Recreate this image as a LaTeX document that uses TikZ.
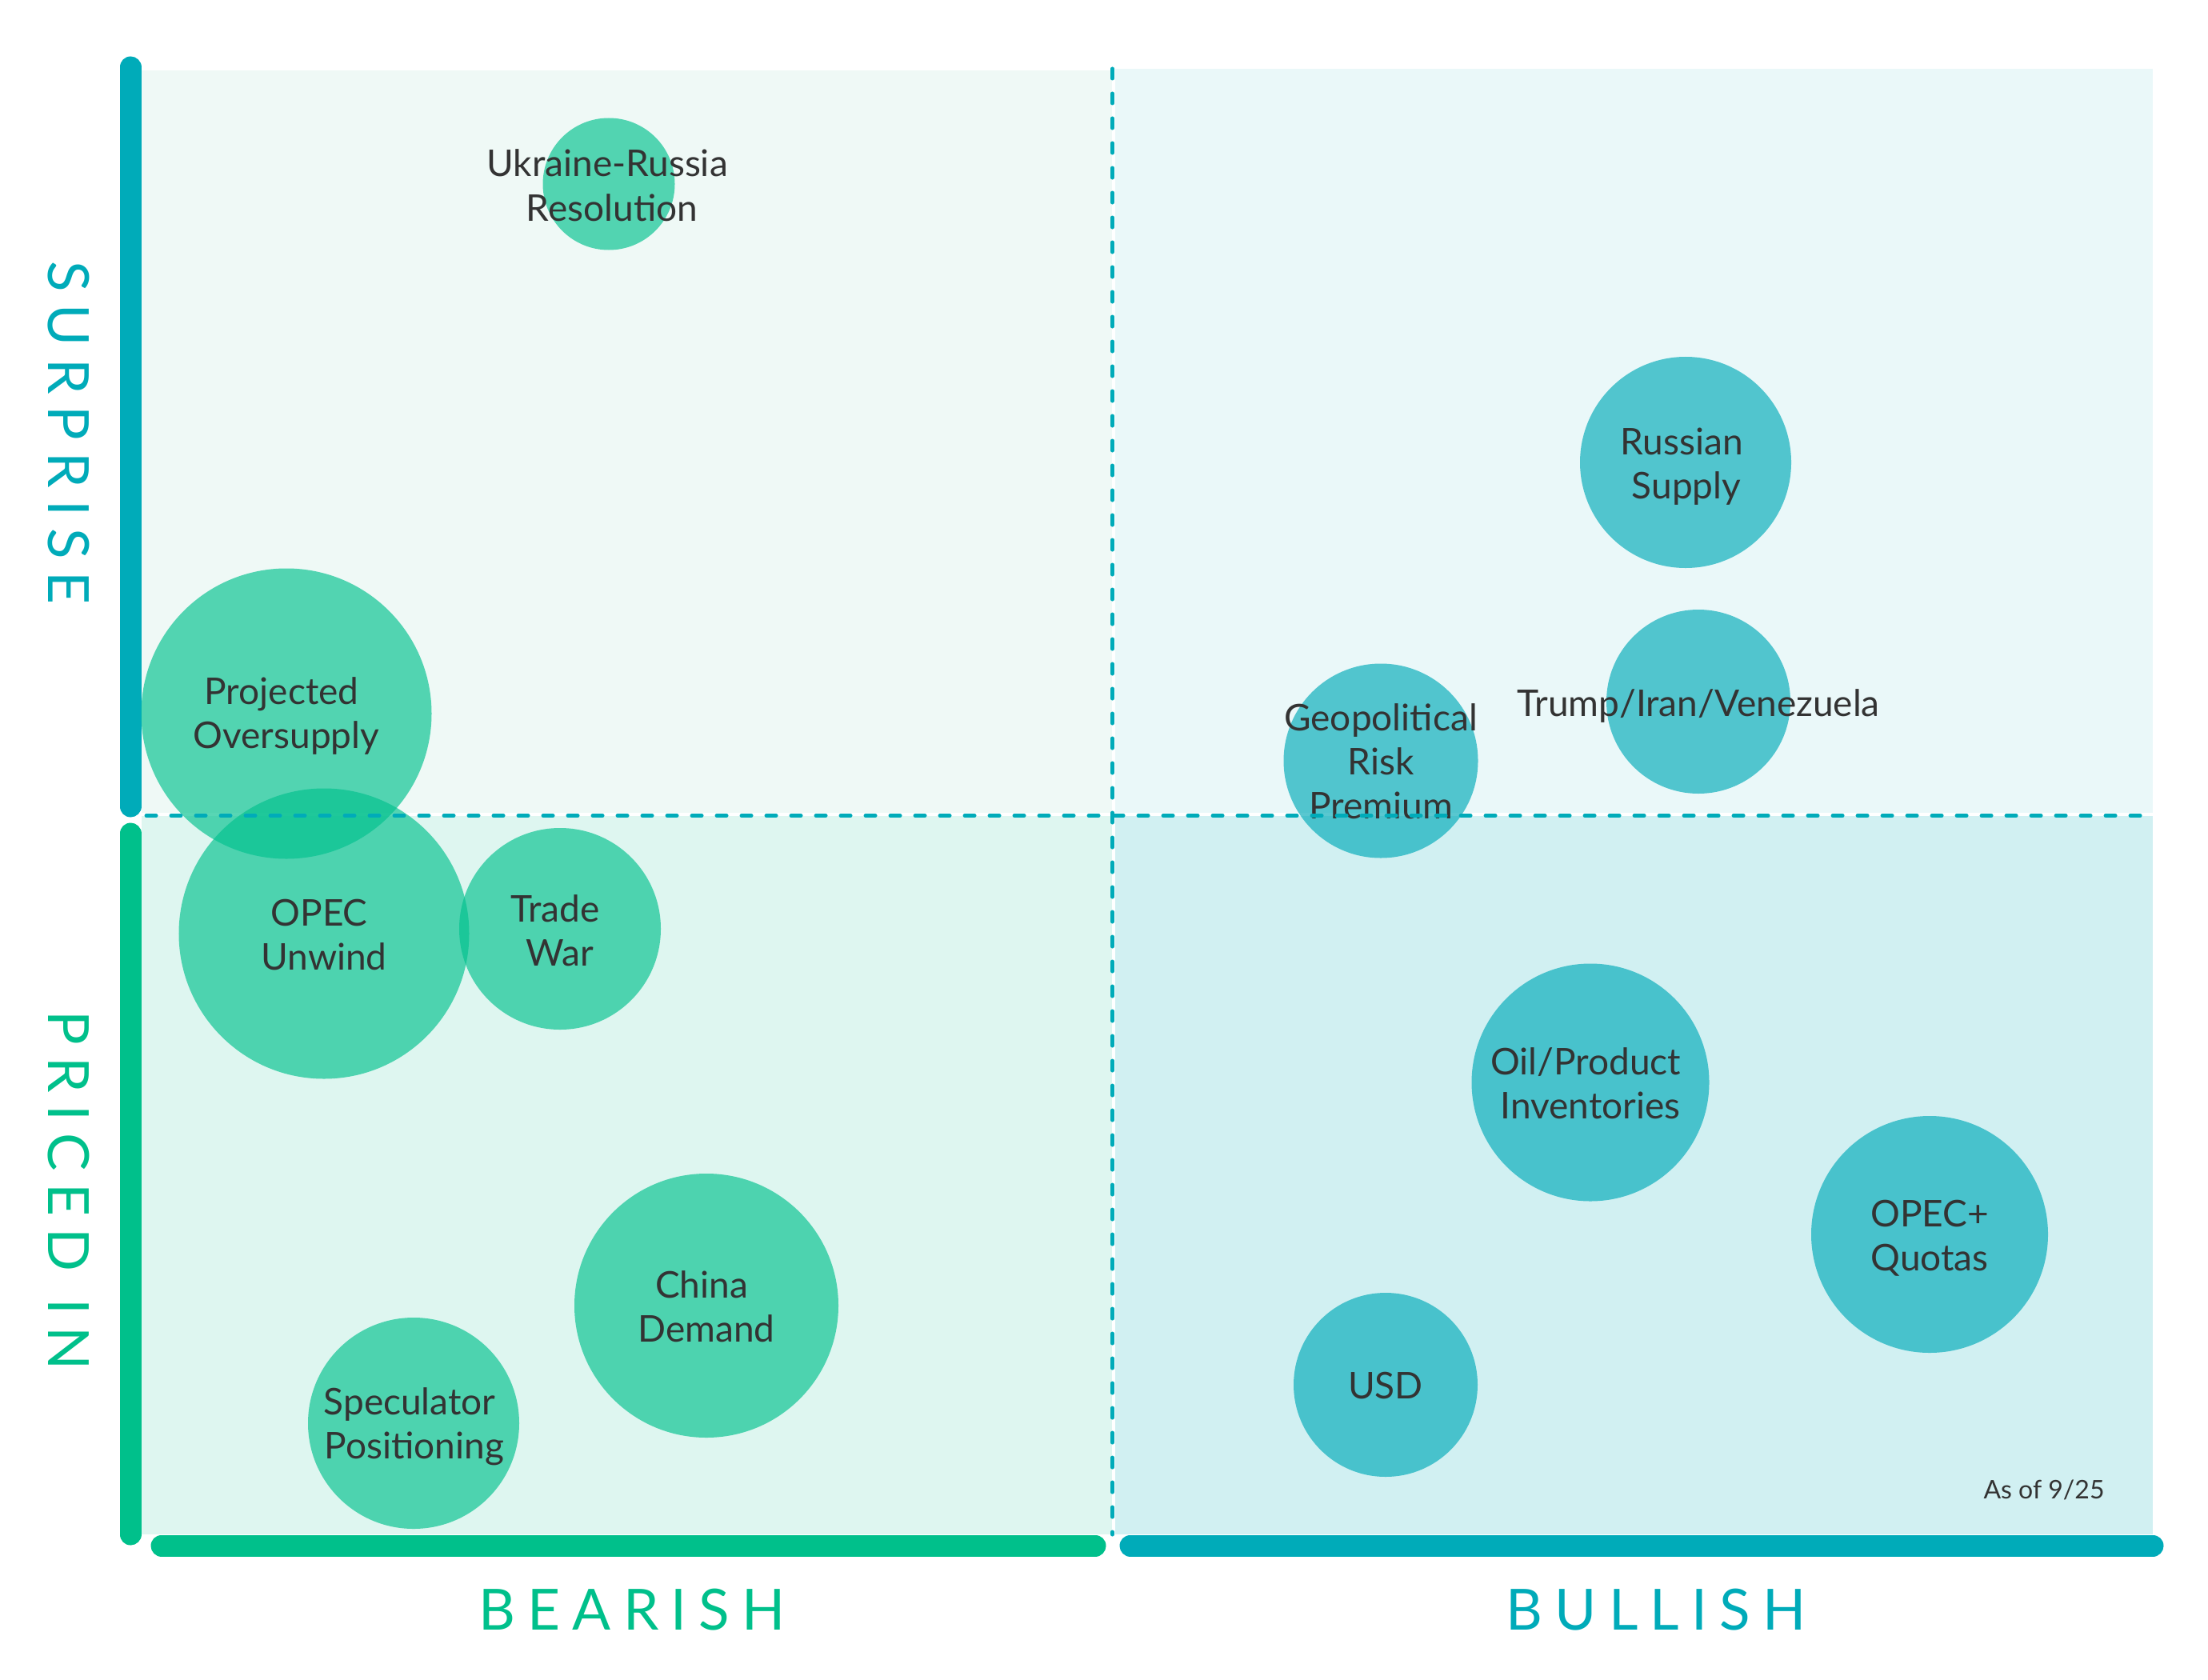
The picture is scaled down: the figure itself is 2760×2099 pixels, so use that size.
\documentclass[tikz,border=0pt]{standalone}
\usepackage{fontspec}
\setmainfont{Lato}
\definecolor{tealc}{RGB}{0,171,185}
\definecolor{greenc}{RGB}{0,192,139}
\definecolor{tealb}{RGB}{0,170,184}
\definecolor{greenb}{RGB}{2,193,142}
\definecolor{txt}{RGB}{51,51,51}
\definecolor{bgTL}{RGB}{239,249,246}
\definecolor{bgTR}{RGB}{234,248,249}
\definecolor{bgBL}{RGB}{222,246,240}
\definecolor{bgBR}{RGB}{209,240,242}
\newcommand\mlines[1]{\vtop{\halign{\hfil##\hfil\cr#1\crcr}}}
\tikzset{
  axbar/.style={line width=13.5bp, line cap=round},
  divider/.style={line width=2.5bp, line cap=round, tealc, dash pattern=on 6bp off 9.5bp},
  gbub/.style={circle, inner sep=0, fill=greenb, fill opacity=0.66, draw=none},
  tbub/.style={circle, inner sep=0, fill=tealb, fill opacity=0.65, draw=none},
  lbl/.style={anchor=base, inner sep=0, text=txt, font=\fontsize{23bp}{27.5bp}\selectfont},
  axl/.style={inner sep=0, font=\fontsize{35.5bp}{40bp}\selectfont\addfontfeature{LetterSpace=21.5}},
}
\begin{document}
\begin{tikzpicture}[x=0.5bp, y=-0.5bp]
\useasboundingbox[fill=white] (0,0) rectangle (2760,2099);
% quadrant backgrounds
\fill[bgTL] (177,88) rectangle (1390,1016);
\fill[bgTR] (1394,86) rectangle (2691,1016);
\fill[bgBL] (177,1020) rectangle (1390,1918);
\fill[bgBR] (1394,1020) rectangle (2691,1918);
% axis bars
\draw[axbar, tealc] (163,84) -- (163,1008);
\draw[axbar, greenc] (163,1042) -- (163,1918);
\draw[axbar, greenc] (202,1932) -- (1369,1932);
\draw[axbar, tealc] (1413,1932) -- (2691,1932);
% bubbles
\node[gbub, minimum size=82.5bp] (ukr) at (761,230) {};
\node[gbub, minimum size=181.5bp] (proj) at (358,892) {};
\node[gbub, minimum size=181.5bp] (opecu) at (405,1167) {};
\node[gbub, minimum size=126bp] (trade) at (700,1161) {};
\node[gbub, minimum size=165bp] (china) at (883,1632) {};
\node[gbub, minimum size=132bp] (spec) at (517,1779) {};
\node[tbub, minimum size=132bp] (russ) at (2107,578) {};
\node[tbub, minimum size=115bp] (trump) at (2123,877) {};
\node[tbub, minimum size=121.5bp] (geo) at (1726,951) {};
\node[tbub, minimum size=148.5bp] (oil) at (1988,1353) {};
\node[tbub, minimum size=148bp] (opecq) at (2412,1543) {};
\node[tbub, minimum size=115bp] (usd) at (1732,1731) {};
% labels
\node[lbl] (ukrT) at (765,221) {\mlines{Ukraine-Russia\ \cr Resolution}};
\node[lbl] (projT) at (358,880) {\mlines{Projected\ \cr Oversupply}};
\node[lbl] (opecuT) at (405,1157) {\mlines{OPEC\ \cr Unwind}};
\node[lbl] (tradeT) at (700,1152) {\mlines{Trade\ \cr War}};
\node[lbl] (chinaT) at (883,1622) {\mlines{China\ \cr Demand}};
\node[lbl] (specT) at (518,1768) {\mlines{Speculator\ \cr Positioning}};
\node[lbl] (russT) at (2108,568) {\mlines{Russian\ \cr Supply}};
\node[lbl] (trumpT) at (2123,895) {Trump/Iran/Venezuela};
\node[lbl] (geoT) at (1726,913) {\mlines{Geopolitical\cr Risk\cr Premium}};
\node[lbl] (oilT) at (1988,1343) {\mlines{Oil/Product\ \cr Inventories}};
\node[lbl] (opecqT) at (2412,1533) {\mlines{OPEC+\cr Quotas}};
\node[lbl] (usdT) at (1732,1748) {USD};
\node[anchor=base, inner sep=0, text=txt, font=\fontsize{16bp}{19bp}\selectfont] (asof) at (2555,1873) {As of 9/25};
% dividers
\draw[divider] (183,1019.5) -- (2691,1019.5);
\draw[divider] (1390.5,86) -- (1390.5,1918);
% axis labels
\node[axl, text=tealc, rotate=-90] (surp) at (86,541) {SURPRISE};
\node[axl, text=greenc, rotate=-90] (pric) at (86,1488) {PRICED IN};
\node[axl, text=greenc, anchor=base] (bear) at (790,2037) {BEARISH};
\node[axl, text=tealc, anchor=base] (bull) at (2070,2037) {BULLISH};
\end{tikzpicture}
\end{document}
